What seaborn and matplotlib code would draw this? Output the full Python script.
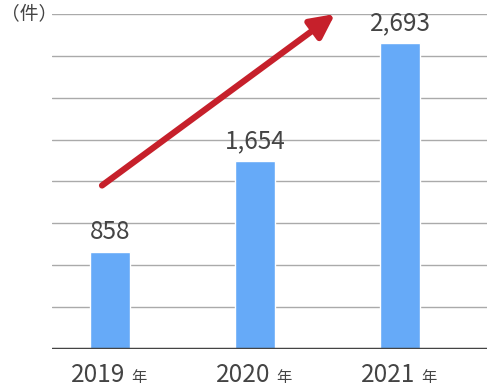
import matplotlib
matplotlib.use("Agg")
import matplotlib.pyplot as plt
import seaborn as sns
import pandas as pd

years = ["2019", "2020", "2021"]
counts = [858, 1654, 2693]
value_labels = ["858", "1,654", "2,693"]
year_suffix = "年"
unit_label = "（件）"

sns.set_theme(style="white")
plt.rcParams['font.family'] = ['Noto Sans CJK JP', 'DejaVu Sans']

df = pd.DataFrame({"year": years, "count": counts})

fig = plt.figure(figsize=(4.87, 3.91), dpi=100)
ax = fig.add_axes([52/487, 42/391, 435/487, 335/391])

sns.barplot(data=df, x="year", y="count", color="#66aaf8", width=0.276,
            saturation=1, ax=ax, zorder=2)

ymax = 2950
ax.set_ylim(0, ymax)
ax.set_xlim(-0.4, 2.6)
step = ymax / 8
for i in range(1, 9):
    ax.axhline(step * i, color="#aaaaaa", lw=1.0, zorder=1)
ax.axhline(0, color="#444444", lw=2.5, zorder=3)

for s in ax.spines.values():
    s.set_visible(False)
ax.set_yticks([])
ax.set_xticks([])
ax.set_xlabel("")
ax.set_ylabel("")

for i, (c, lab) in enumerate(zip(counts, value_labels)):
    ax.text(i, c + 60, lab, ha="center", va="bottom", fontsize=17.5,
            color="#444444")

px = 72 / 100  # points per pixel
for i, y in enumerate(years):
    ax.annotate(y, xy=(i, 0), xycoords="data", xytext=(-11.5 * px, -33 * px),
                textcoords="offset points", ha="center", va="baseline",
                fontsize=17.5, color="#444444", annotation_clip=False)
    ax.annotate(year_suffix, xy=(i, 0), xycoords="data",
                xytext=(28.5 * px, -33 * px),
                textcoords="offset points", ha="center", va="baseline",
                fontsize=11, color="#444444", annotation_clip=False)

ax.annotate("", xy=(1.552, 2950), xytext=(-0.055, 1440),
            arrowprops=dict(arrowstyle="-|>,head_length=1.2,head_width=0.6",
                            color="#c6202b", lw=4.5, shrinkA=0, shrinkB=0),
            annotation_clip=False, zorder=5)

fig.text(0.5 / 487, 1 - 14 / 391, unit_label, ha="left", va="center",
         fontsize=13.5, color="#444444")

fig.savefig("out.png", dpi=100)
